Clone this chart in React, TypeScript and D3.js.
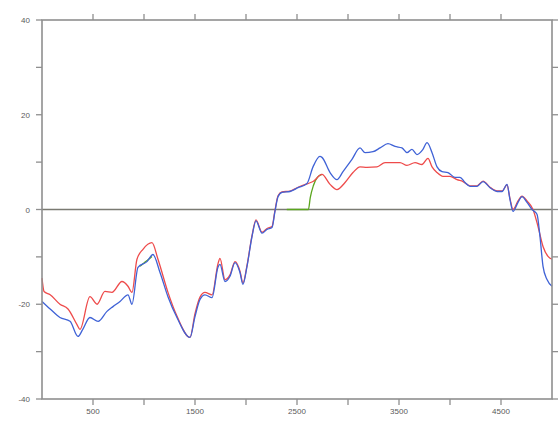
import React from "react";
import * as d3 from "d3";

// [position, value] pairs for each profile
const blueSeries: [number, number][] = [
  [0, -19.4], [80, -21], [176, -22.8], [275, -23.6], [353, -26.8], [400, -25.3],
  [470, -22.8], [550, -23.6], [637, -21.5], [696, -20.5], [765, -19.4], [843, -18],
  [882, -20], [941, -12.2], [1029, -11], [1088, -9.5], [1157, -13.3], [1235, -18.4],
  [1323, -22.8], [1451, -27], [1500, -22.6], [1549, -19], [1598, -18], [1667, -18.6],
  [1725, -12.2], [1745, -11.6], [1794, -15.2], [1843, -14.1], [1892, -11.2], [1941, -13.3],
  [1970, -15.8], [2010, -12], [2059, -5.7], [2098, -2.4], [2157, -5], [2206, -4.2],
  [2255, -3.8], [2284, -0.4], [2314, 2.7], [2353, 3.6], [2431, 3.8], [2510, 4.6],
  [2598, 5.5], [2657, 9], [2725, 11.2], [2745, 11], [2824, 7.8], [2892, 6.3],
  [2951, 8], [3039, 10.6], [3118, 13], [3167, 12], [3245, 12.2], [3314, 13],
  [3392, 13.9], [3461, 13.3], [3529, 13], [3578, 12], [3627, 12.7], [3676, 11.6],
  [3735, 12.7], [3775, 14.1], [3824, 12], [3873, 9], [3922, 8], [3980, 7.8],
  [4049, 6.8], [4098, 6.8], [4147, 5.7], [4196, 4.9], [4265, 4.9], [4324, 5.9],
  [4392, 4.6], [4461, 3.8], [4510, 3.8], [4559, 5.3], [4588, 2.1], [4618, -0.4],
  [4667, 1.5], [4706, 2.7], [4755, 1.5], [4804, 0], [4853, -1], [4882, -5.7],
  [4912, -12], [4951, -14.8], [5000, -16.2],
];

const redSeries: [number, number][] = [
  [0, -14.5], [20, -17.3], [80, -18], [176, -20], [255, -21], [343, -24.3],
  [372, -25.3], [470, -18.4], [540, -20], [617, -17.3], [686, -17.5], [784, -15.2],
  [843, -16.2], [882, -17.5], [931, -10.5], [990, -8.4], [1078, -7], [1137, -10.5],
  [1235, -17.5], [1323, -22.5], [1451, -27], [1500, -22], [1549, -18.5], [1598, -17.5],
  [1667, -18], [1725, -11.5], [1745, -10.3], [1794, -14.8], [1843, -13.8], [1892, -11],
  [1941, -13], [1970, -15.5], [2010, -11.8], [2059, -5.5], [2098, -2.2], [2157, -4.8],
  [2206, -4], [2255, -3.6], [2284, -0.2], [2314, 2.9], [2353, 3.7], [2431, 3.9],
  [2510, 4.7], [2598, 5.4], [2657, 5.9], [2745, 7.4], [2824, 5.3], [2892, 4.2],
  [2971, 5.7], [3049, 7.8], [3118, 9], [3186, 8.9], [3284, 9], [3363, 9.9],
  [3441, 9.9], [3510, 9.9], [3578, 9.3], [3657, 9.9], [3725, 9.5], [3784, 10.8],
  [3824, 9], [3873, 7.8], [3931, 7], [4000, 7], [4069, 6.3], [4128, 5.9],
  [4196, 5], [4265, 5], [4324, 6], [4392, 4.7], [4461, 3.9], [4510, 3.9],
  [4559, 5.2], [4588, 2.3], [4618, 0], [4667, 1.8], [4706, 2.8], [4755, 1.8],
  [4814, 0], [4863, -3.6], [4912, -7.8], [4961, -9.9], [5000, -10.5],
];

// NaN marks a gap in the green profile
const greenSeries: [number, number][] = [
  [961, -12], [1000, -11.3], [1040, -10.6], [1078, -9.9], [1100, NaN],
  [2400, 0], [2500, 0], [2612, 0], [2630, 2.5], [2660, 5], [2700, 6.8], [2745, 7.4],
];

const xTicks = [500, 1000, 1500, 2000, 2500, 3000, 3500, 4000, 4500];
const xTickLabels = [500, 1500, 2500, 3500, 4500];
const yTicks = [-40, -30, -20, -10, 0, 10, 20, 30, 40];
const yTickLabels = [-40, -20, 0, 20, 40];

const W = 560;
const H = 421;
const left = 42;
const right = 552;
const top = 20;
const bottom = 399;

export default function App() {
  const x = d3.scaleLinear().domain([0, 5000]).range([left, right]);
  const y = d3.scaleLinear().domain([-40, 40]).range([bottom, top]);

  const line = d3
    .line<[number, number]>()
    .defined((d) => !Number.isNaN(d[1]))
    .curve(d3.curveMonotoneX)
    .x((d) => x(d[0]))
    .y((d) => y(d[1]));

  const axisColor = "#8f8f8f";
  const labelColor = "#5a5a5a";
  const tickLen = 6;
  const font = "'Liberation Sans', Arial, sans-serif";

  return (
    <svg
      width={W}
      height={H}
      style={{ position: "fixed", left: 0, top: 0, background: "#fff" }}
    >
      <rect x={0} y={0} width={W} height={H} fill="#fff" />
      {/* zero reference line */}
      <line x1={x(0)} x2={x(5000)} y1={y(0)} y2={y(0)} stroke="#7a7a72" strokeWidth={1.6} />

      {/* profiles */}
      <g fill="none" strokeLinejoin="round" strokeWidth={1.3}>
        <path d={line(greenSeries) || ""} stroke="#5aa51e" />
        <path d={line(redSeries) || ""} stroke="#ee4b4b" />
        <path d={line(blueSeries) || ""} stroke="#3f62d6" />
      </g>

      {/* frame */}
      <rect
        x={left}
        y={top}
        width={right - left}
        height={bottom - top}
        fill="none"
        stroke={axisColor}
        strokeWidth={1.6}
      />

      {/* ticks on all four sides */}
      <g stroke={axisColor} strokeWidth={1.3}>
        {xTicks.map((t) => (
          <g key={"x" + t}>
            <line x1={x(t)} x2={x(t)} y1={bottom} y2={bottom + tickLen} />
            <line x1={x(t)} x2={x(t)} y1={top} y2={top - tickLen} />
          </g>
        ))}
        {yTicks.map((t) => (
          <g key={"y" + t}>
            <line x1={left} x2={left - tickLen} y1={y(t)} y2={y(t)} />
            <line x1={right} x2={right + tickLen} y1={y(t)} y2={y(t)} />
          </g>
        ))}
      </g>

      <g fill={labelColor} fontFamily={font} fontSize={8}>
        {xTickLabels.map((t) => (
          <text key={"xl" + t} x={x(t)} y={bottom + 15} textAnchor="middle">
            {t}
          </text>
        ))}
        {yTickLabels.map((t) => (
          <text key={"yl" + t} x={left - 12} y={y(t) + 3} textAnchor="end">
            {t}
          </text>
        ))}
      </g>
    </svg>
  );
}
